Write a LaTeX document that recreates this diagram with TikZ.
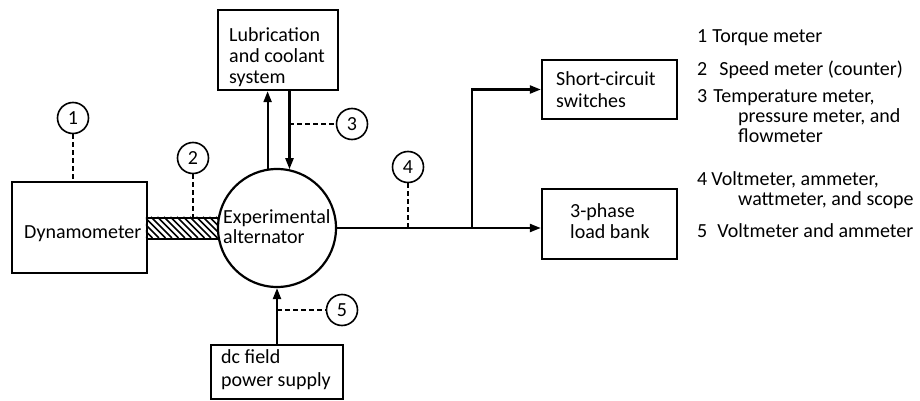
\documentclass[tikz,border=0pt]{standalone}
\usepackage{fontspec}
\setmainfont{Carlito}
\usetikzlibrary{arrows.meta}
\begin{document}
\begin{tikzpicture}[x=1pt,y=-1pt,
  boxnode/.style={draw, line width=2.4pt, rectangle, inner sep=0pt},
  txt/.style={inner sep=0pt, align=left, anchor=north west},
  numc/.style={draw, circle, line width=1.6pt, minimum size=31pt, inner sep=0pt, font=\fontsize{20}{22}\selectfont},
  conn/.style={line width=2.2pt},
  arr/.style={conn, -{Triangle[length=11pt,width=8pt]}},
  meas/.style={line width=1.7pt, dash pattern=on 5pt off 3pt},
  leg/.style={font=\fontsize{20}{20}\selectfont, inner sep=0pt, align=left, anchor=north west}]
\useasboundingbox (0,0) rectangle (920,401);

% boxes
\node[boxnode, minimum width=120pt, minimum height=80pt] (lub) at (278,50) {};
\node[boxnode, minimum width=135pt, minimum height=91pt] (dyn) at (79.5,227.5) {};
\node[boxnode, minimum width=135pt, minimum height=59pt] (sc) at (609.5,89.5) {};
\node[boxnode, minimum width=135pt, minimum height=70pt] (lb) at (609.5,224) {};
\node[boxnode, minimum width=132pt, minimum height=54pt] (dc) at (277,372) {};

% shaft
\node[draw, line width=2.2pt, minimum width=74pt, minimum height=21pt, inner sep=0pt] (shaft) at (184,228.5) {};
\begin{scope}
  \clip (shaft.south west) rectangle (shaft.north east);
  \foreach \i in {0,...,15}
    \draw[line width=1.5pt] ([xshift=\i*6.5pt-21pt]shaft.north west) -- ++(21,21);
\end{scope}

% alternator
\node[draw, circle, line width=2.2pt, minimum size=118pt, inner sep=0pt, fill=white] (alt) at (277,228) {};

% numbered circles
\node[numc] (c1) at (73,118) {1};
\node[numc] (c2) at (193,158) {2};
\node[numc] (c3) at (352,124) {3};
\node[numc] (c4) at (408,167) {4};
\node[numc] (c5) at (342,310) {5};

% connectors
\draw[arr] (alt.99) -- (alt.99 |- lub.south);
\draw[arr] (alt.78 |- lub.south) -- (alt.78);
\coordinate (br) at (472,228);
\draw[arr] (alt.east) -- (lb.west |- alt.east);
\draw[arr] (br) |- (sc.west);
\draw[arr] (dc.north) -- (alt.south);

% measurement lines
\draw[meas] (c1.south) -- (c1.south |- dyn.north);
\draw[meas] (c2.south) -- (c2.south |- shaft.north);
\draw[meas] (c3.west -| alt.78) -- (c3.west);
\draw[meas] (c4.south) -- (c4.south |- alt.east);
\draw[meas] (c5.west -| alt.south) -- (c5.west);

% texts
\node[txt, font=\fontsize{20}{21}\selectfont] (lubt) at (229,27) {Lubrication\\and coolant\\system};
\node[inner sep=0pt, anchor=base west, font=\fontsize{20}{21}\selectfont] (dynt) at (24,238) {Dynamometer};
\node[txt, font=\fontsize{20}{20}\selectfont] (altt) at (223,209) {Experimental\\alternator};
\node[txt, font=\fontsize{20}{22}\selectfont] (sct) at (556,71) {Short-circuit\\switches};
\node[txt, font=\fontsize{20}{21}\selectfont] (lbt) at (570,203) {3-phase\\load bank};
\node[txt, font=\fontsize{20}{23}\selectfont] (dct) at (221,349) {dc field\\power supply};

% legend
\node[leg] (l1) at (697,29) {1\hspace{5pt}Torque meter};
\node[leg] (l2) at (697,61) {2\hspace{12pt}Speed meter (counter)};
\node[leg] (l3) at (697,89) {3\hspace{6pt}Temperature meter,\\\hspace*{41pt}pressure meter, and\\\hspace*{41pt}flowmeter};
\node[leg] (l4) at (697,171) {4\hspace{4pt}Voltmeter, ammeter,\\\hspace*{41pt}wattmeter, and scope};
\node[leg] (l5) at (697,223) {5\hspace{10pt}Voltmeter and ammeter};
\end{tikzpicture}
\end{document}
